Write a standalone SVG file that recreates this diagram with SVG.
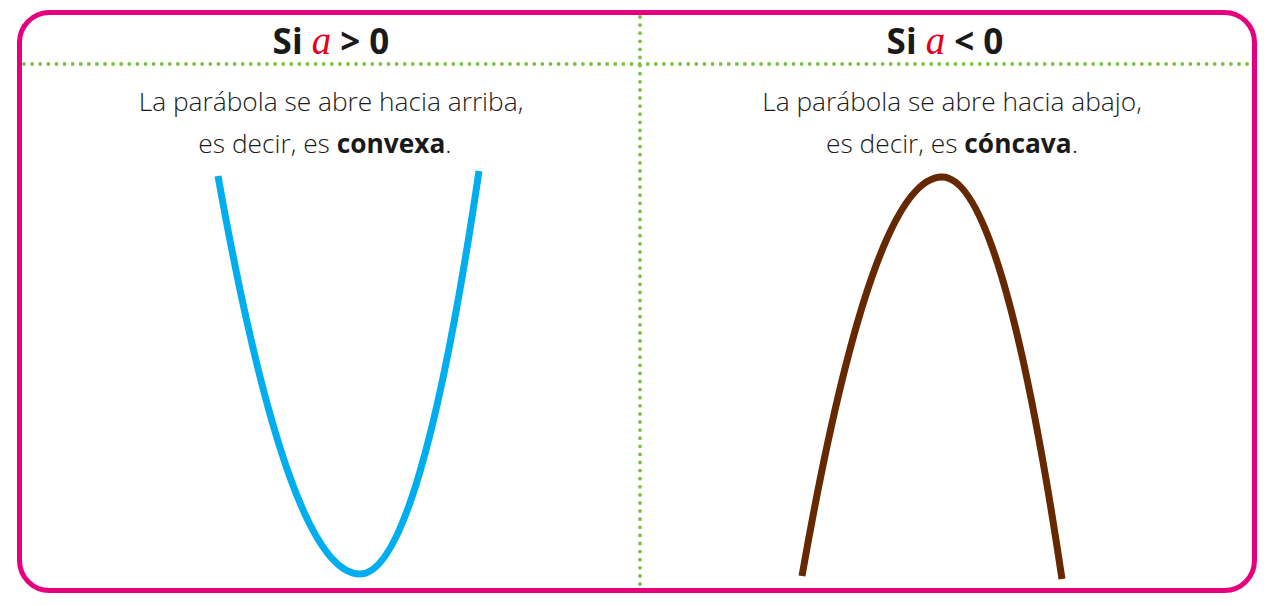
<svg xmlns="http://www.w3.org/2000/svg" width="1274" height="606" viewBox="0 0 1274 606">
<style>
.dots{stroke:#7AC143;stroke-width:3.8;stroke-linecap:round;stroke-dasharray:0 8.1;fill:none}
.title{font-family:"Open Sans","Liberation Sans",sans-serif;font-weight:700;font-size:35px;fill:#1a1a1a;text-anchor:middle}
.var{font-family:"Liberation Serif",serif;font-style:italic;font-weight:400;fill:#E2001A;font-size:39px}
.body{font-family:"Open Sans","Liberation Sans",sans-serif;font-weight:300;font-size:26.3px;fill:#1a1a1a;text-anchor:middle}
.b{font-weight:700}
.curve{fill:none;stroke-width:7;stroke-linecap:butt}
</style>
<rect id="frame" x="19.5" y="12.5" width="1235" height="578" rx="30" ry="30" fill="#fff" stroke="#E6007E" stroke-width="5"/>
<g id="dividers">
<line class="dots" x1="24" y1="64" x2="1252" y2="64"/>
<line class="dots" x1="640" y1="17" x2="640" y2="588"/>
</g>
<g id="left-panel">
<text class="title" x="331" y="54">Si <tspan class="var">a</tspan> &gt; 0</text>
<text class="body" x="331" y="111">La parábola se abre hacia arriba,</text>
<text class="body" x="325" y="153">es decir, es <tspan class="b">convexa</tspan>.</text>
<path id="convex" class="curve" stroke="#00AEEF" d="M218,176 Q289,574 360,574 Q419.5,574 479,171"/>
</g>
<g id="right-panel">
<text class="title" x="945" y="54">Si <tspan class="var">a</tspan> &lt; 0</text>
<text class="body" x="952" y="111">La parábola se abre hacia abajo,</text>
<text class="body" x="952" y="153">es decir, es <tspan class="b">cóncava</tspan>.</text>
<path id="concave" class="curve" stroke="#662800" d="M802,576 Q872,177 942,177 Q1002,177 1062,579"/>
</g>
</svg>
